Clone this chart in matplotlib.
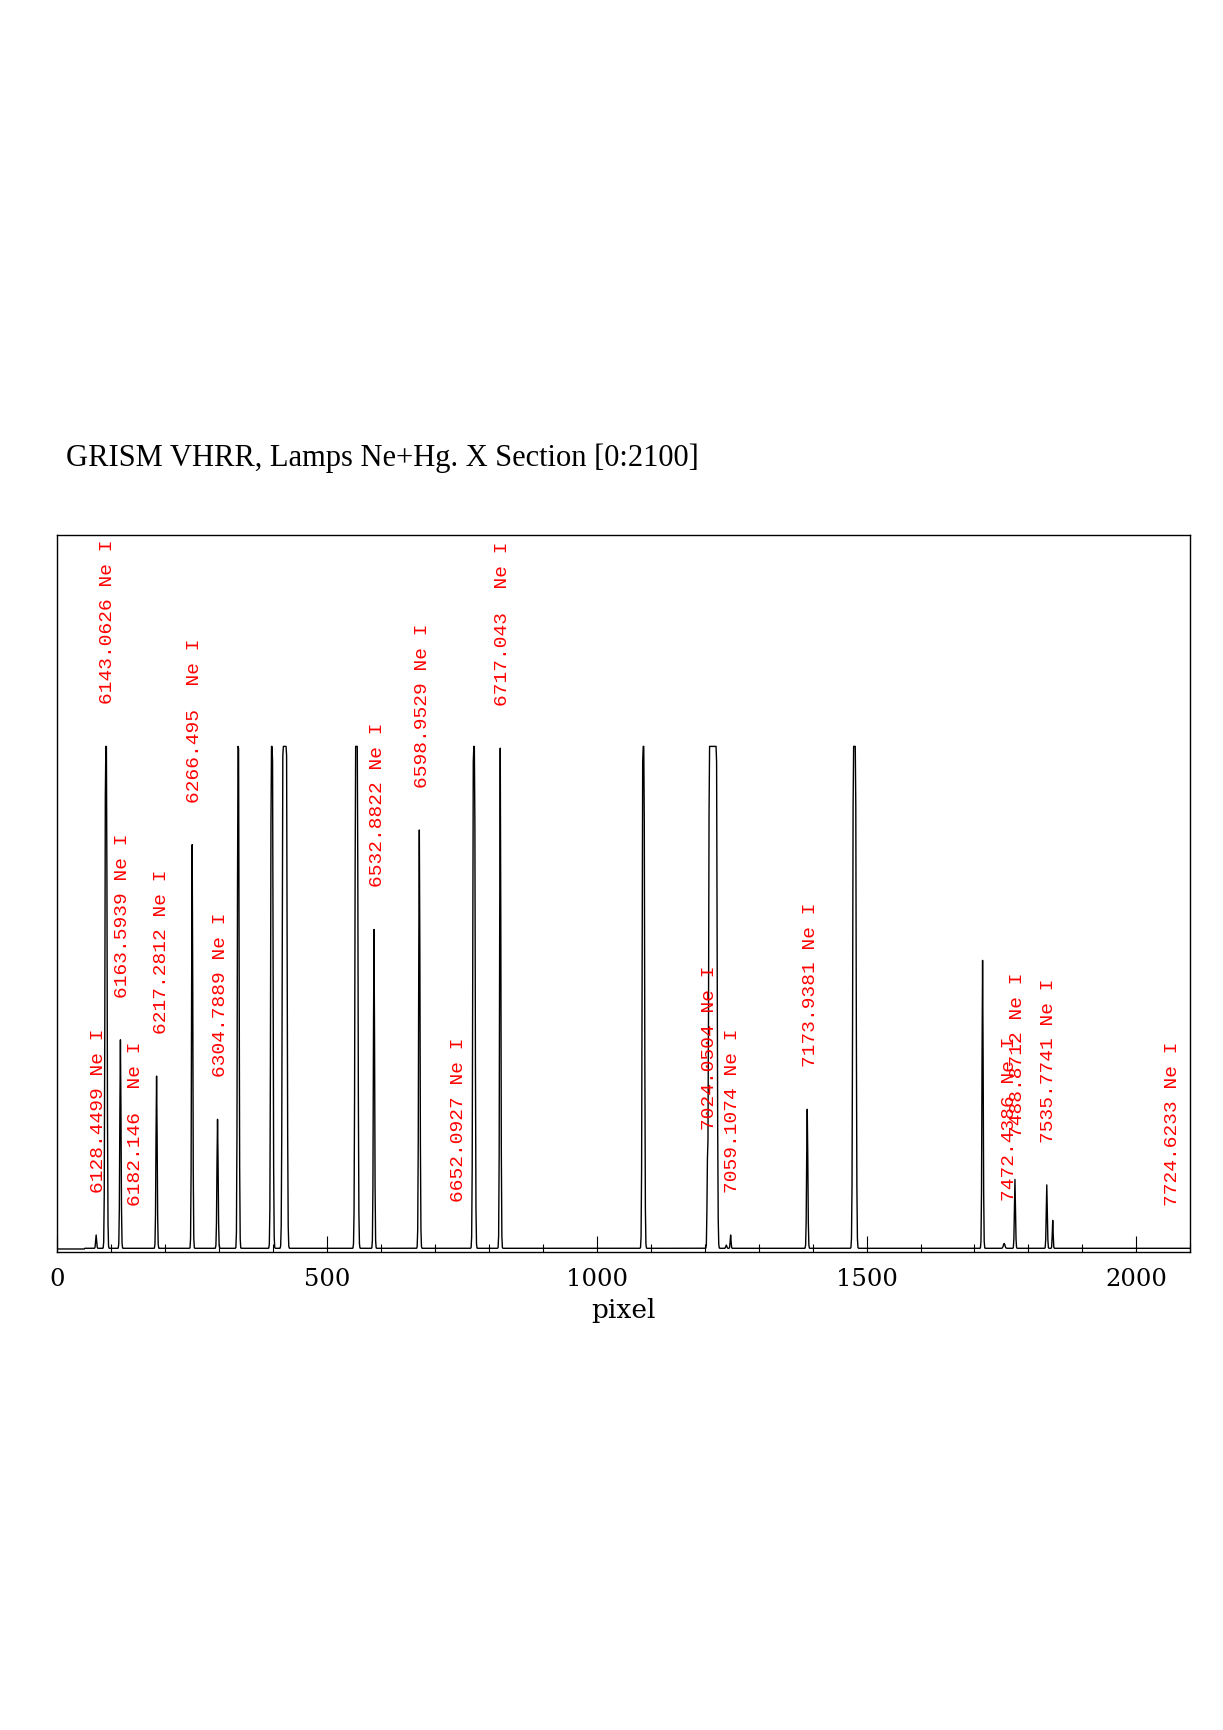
import numpy as np
import matplotlib
matplotlib.use("Agg")
import matplotlib.pyplot as plt

# ---------------- data ----------------
title = "GRISM VHRR, Lamps Ne+Hg. X Section [0:2100]"
xlabel = "pixel"
x_ticks = [0, 500, 1000, 1500, 2000]
x_range = [0, 2100]
y_range = [0, 93000]
saturation = 65535

# emission line profiles: centre (pixel), peak counts, sigma (pixel), plateau width (pixel)
peak_pixel = [72.0, 90.3, 117.0, 184.0, 250.0, 297.0, 335.4, 397.7, 421.5,
              554.5, 587.0, 671.0, 772.3, 821.0, 1086.3, 1205.0, 1215.2,
              1240.0, 1248.0, 1390.0, 1477.5, 1715.0, 1755.0, 1775.0,
              1834.0, 1845.0]
peak_counts = [2200, 65535, 27500, 22800, 52800, 17200, 65535, 65535, 65535,
               65535, 41800, 54700, 65535, 65300, 65535, 10300, 65535,
               900, 2200, 18500, 65535, 37800, 1100, 9400,
               8700, 4100]
peak_sigma = [0.9, 1.2, 1.1, 1.1, 1.1, 1.1, 1.1, 1.2, 1.3,
              1.3, 1.1, 1.2, 1.2, 1.1, 1.2, 0.8, 1.4,
              1.0, 0.8, 1.1, 1.3, 1.1, 1.5, 1.0,
              1.0, 0.8]
peak_plateau = [0, 1.5, 0, 0, 0, 0, 1.0, 2.0, 6.5,
                3.0, 0, 0, 2.0, 0, 2.0, 0, 12.9,
                0, 0, 0, 3.7, 0, 0, 0,
                0, 0]
baseline_break = 51
baseline_levels = [390, 480]

# line identifications
label_wavelength = ["6128.4499", "6143.0626", "6163.5939", "6182.146",
                    "6217.2812", "6266.495", "6304.7889", "6532.8822",
                    "6598.9529", "6652.0927", "6717.043", "7024.0504",
                    "7059.1074", "7173.9381", "7472.4386", "7488.8712",
                    "7535.7741", "7724.6233"]
label_ion = ["Ne I"] * 18
label_pixel = [71.8, 90.2, 116.8, 141.4, 188.5, 249.9, 299.0, 589.6,
               673.5, 739.0, 820.9, 1205.5, 1248.4, 1391.9, 1760.3,
               1776.7, 1834.0, 2063.0]
label_counts = [2200, 65535, 27500, 480, 22800, 52800, 17200, 41800,
                54700, 1000, 65300, 10300, 2200, 18500, 1100, 9400,
                8700, 480]

# ---------------- build spectrum from the read line parameters ----------------
pix = np.arange(x_range[0], x_range[1] + 1)
spec = np.where(pix < baseline_break, baseline_levels[0], baseline_levels[1]).astype(float)
for c, h, s, p in zip(peak_pixel, peak_counts, peak_sigma, peak_plateau):
    d = np.maximum(np.abs(pix - c) - p / 2.0, 0.0)
    spec += (h - baseline_levels[1]) * np.exp(-0.5 * (d / s) ** 2)
spec = np.minimum(spec, saturation)

# ---------------- figure ----------------
W, H = 1223, 1731
fig = plt.figure(figsize=(W / 100, H / 100), dpi=100)
ax = fig.add_axes([57.3 / W, 1 - 1253 / H, (1190.3 - 57.3) / W, (1253 - 535.5) / H])

ax.plot(pix, spec, color="black", lw=1.0)
ax.set_xlim(*x_range)
ax.set_ylim(*y_range)

ax.set_xticks(x_ticks)
ax.set_xticks(np.arange(0, 2101, 100), minor=True)
ax.set_yticks([])
ax.tick_params(axis="x", which="major", direction="in", length=11.5, width=0.8,
               top=False, pad=11, labelsize=17.5)
ax.tick_params(axis="x", which="minor", direction="in", length=5.8, width=0.8, top=False)
for lab in ax.get_xticklabels():
    lab.set_fontfamily("DejaVu Serif")
for sp in ax.spines.values():
    sp.set_linewidth(1.0)

ax.set_xlabel(xlabel, fontsize=19, family="DejaVu Serif", labelpad=5)

for wl, ion, xp, yc in zip(label_wavelength, label_ion, label_pixel, label_counts):
    txt = f"{wl:<9s} {ion}"
    ax.annotate(txt, xy=(xp, yc), xytext=(0, 31), textcoords="offset points",
                rotation=90, rotation_mode="anchor", ha="left", va="center_baseline",
                color="red", fontsize=14, family="Liberation Mono", annotation_clip=False)

fig.text(66 / W, 1 - 466 / H, title, fontsize=22, family="Liberation Serif",
         ha="left", va="baseline")

fig.savefig("out.png", dpi=100, facecolor="white")
